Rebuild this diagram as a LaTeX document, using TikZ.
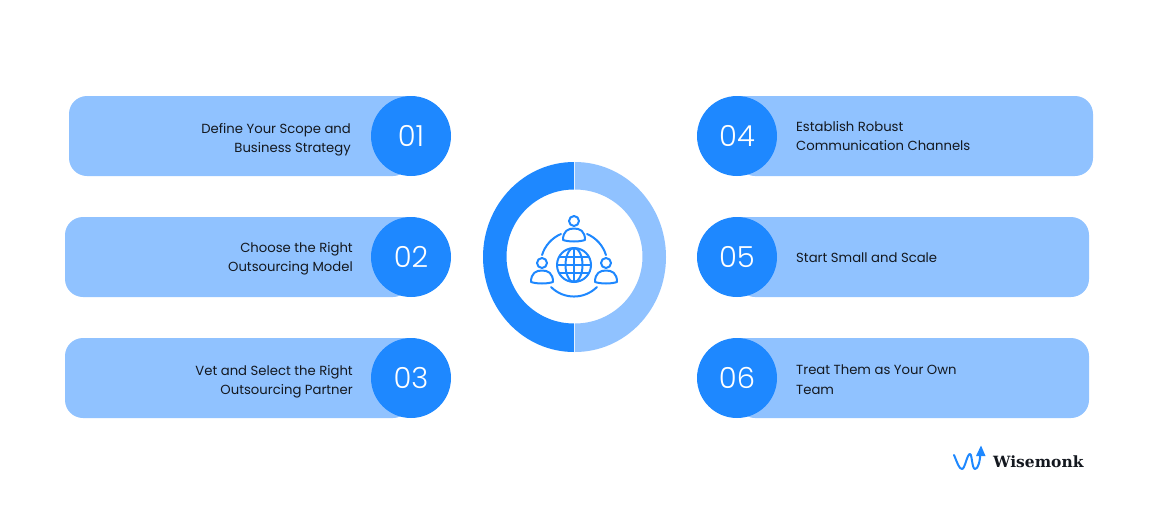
\documentclass[tikz,border=0pt]{standalone}
\usepackage{fontspec}
\setmainfont{Poppins}
\newfontfamily\numfont{Poppins Light}
\newfontfamily\brandfont{DejaVu Serif}
\definecolor{deepblue}{HTML}{1E88FF}
\definecolor{paleblue}{HTML}{90C2FF}
\definecolor{inkblack}{HTML}{14181F}
\begin{document}
\begin{tikzpicture}[
	x=1pt, y=-1pt,
	barra/.style={fill=paleblue, draw=none},
	disco/.style={circle, fill=deepblue, inner sep=0pt, minimum size=80pt, text=white, font=\numfont\fontsize{29}{29}\selectfont},
	voce/.style={font=\fontsize{13.2}{19.5}\selectfont, text=inkblack, inner sep=0pt},
	icona/.style={line width=2pt, draw=deepblue, line cap=round, line join=round},
	]
	
	\useasboundingbox (0,0) rectangle (1160,504);
	
	% barre di sinistra (il lato destro finisce sotto il disco)
	\fill[barra, rounded corners=18pt] (411,96) -- (69,96) -- (69,176) -- (411,176) [sharp corners] -- cycle;
	\fill[barra, rounded corners=18pt] (411,217) -- (65,217) -- (65,297) -- (411,297) [sharp corners] -- cycle;
	\fill[barra, rounded corners=18pt] (411,338) -- (65,338) -- (65,418) -- (411,418) [sharp corners] -- cycle;
	% barre di destra
	\fill[barra, rounded corners=18pt] (737,96) -- (1093,96) -- (1093,176) -- (737,176) [sharp corners] -- cycle;
	\fill[barra, rounded corners=18pt] (737,217) -- (1089,217) -- (1089,297) -- (737,297) [sharp corners] -- cycle;
	\fill[barra, rounded corners=18pt] (737,338) -- (1089,338) -- (1089,418) -- (737,418) [sharp corners] -- cycle;
	
	% dischi numerati
	\node[disco] (uno) at (411,136) {01};
	\node[disco] (due) at (411,257) {02};
	\node[disco] (tre) at (411,378) {03};
	\node[disco] (quattro) at (737,136) {04};
	\node[disco] (cinque) at (737,257) {05};
	\node[disco] (sei) at (737,378) {06};
	
	% testi
	\node[voce, align=right, anchor=east] (t1) at (351,139.5) {Define Your Scope and\\Business Strategy};
	\node[voce, align=right, anchor=east] (t2) at (353,259) {Choose the Right\\Outsourcing Model};
	\node[voce, align=right, anchor=east] (t3) at (353,382) {Vet and Select the Right\\Outsourcing Partner};
	\node[voce, align=left, anchor=west] (t4) at (796,136) {Establish Robust\\Communication Channels};
	\node[voce, align=left, anchor=west] (t5) at (796,258) {Start Small and Scale};
	\node[voce, align=left, anchor=west] (t6) at (796,379.5) {Treat Them as Your Own\\Team};
	
	% anello centrale
	\fill[paleblue] (575,162) arc[start angle=-90, end angle=90, x radius=91, y radius=95] -- (575,323.5)
		arc[start angle=90, end angle=-90, x radius=67.5, y radius=67] -- cycle;
	\fill[deepblue] (574,162) arc[start angle=270, end angle=90, x radius=91, y radius=95] -- (574,323.5)
		arc[start angle=90, end angle=270, x radius=67.5, y radius=67] -- cycle;
	
	% icona: globo
	\begin{scope}[shift={(574,265)}]
		\draw[icona] (0,0) circle (17);
		\draw[icona] (0,-17) -- (0,17);
		\draw[icona] (0,0) ellipse (8.5 and 17);
		\draw[icona] (-17,0) -- (17,0);
		\draw[icona] (-14.5,-8) -- (14.5,-8);
		\draw[icona] (-14.5,8) -- (14.5,8);
	\end{scope}
	% icona: persone
	\foreach \px/\py in {574/221, 542/263, 606/263}{
		\begin{scope}[shift={(\px,\py)}]
			\draw[icona] (0,0) circle (5);
			\draw[icona] (-11,19) .. controls (-11,10) and (-6,7.5) .. (0,7.5) .. controls (6,7.5) and (11,10) .. (11,19) .. controls (5,21) and (-5,21) .. (-11,19) -- cycle;
		\end{scope}
	}
	% icona: archi
	\draw[icona] (561,234) arc[start angle=-113, end angle=-163, radius=33.5];
	\draw[icona] (587,234) arc[start angle=-67, end angle=-17, radius=33.5];
	\draw[icona] (551,287) arc[start angle=135, end angle=45, radius=32.5];
	
	% marchio
	\draw[line width=2pt, deepblue, line join=round, line cap=round] (954,455) .. controls (957,462) and (959,469) .. (962,469) .. controls (965,469) and (967,454) .. (970,454) .. controls (972,454) and (972,469) .. (975,469) .. controls (978,469) and (980,462) .. (980.5,452);
	\fill[deepblue] (981,445.5) -- (985.5,456) -- (976,456) -- cycle;
	\node[font=\brandfont\bfseries\fontsize{15.5}{15.5}\selectfont, text=inkblack, anchor=west, inner sep=0pt] (marchio) at (993,462) {Wisemonk};
\end{tikzpicture}
\end{document}
